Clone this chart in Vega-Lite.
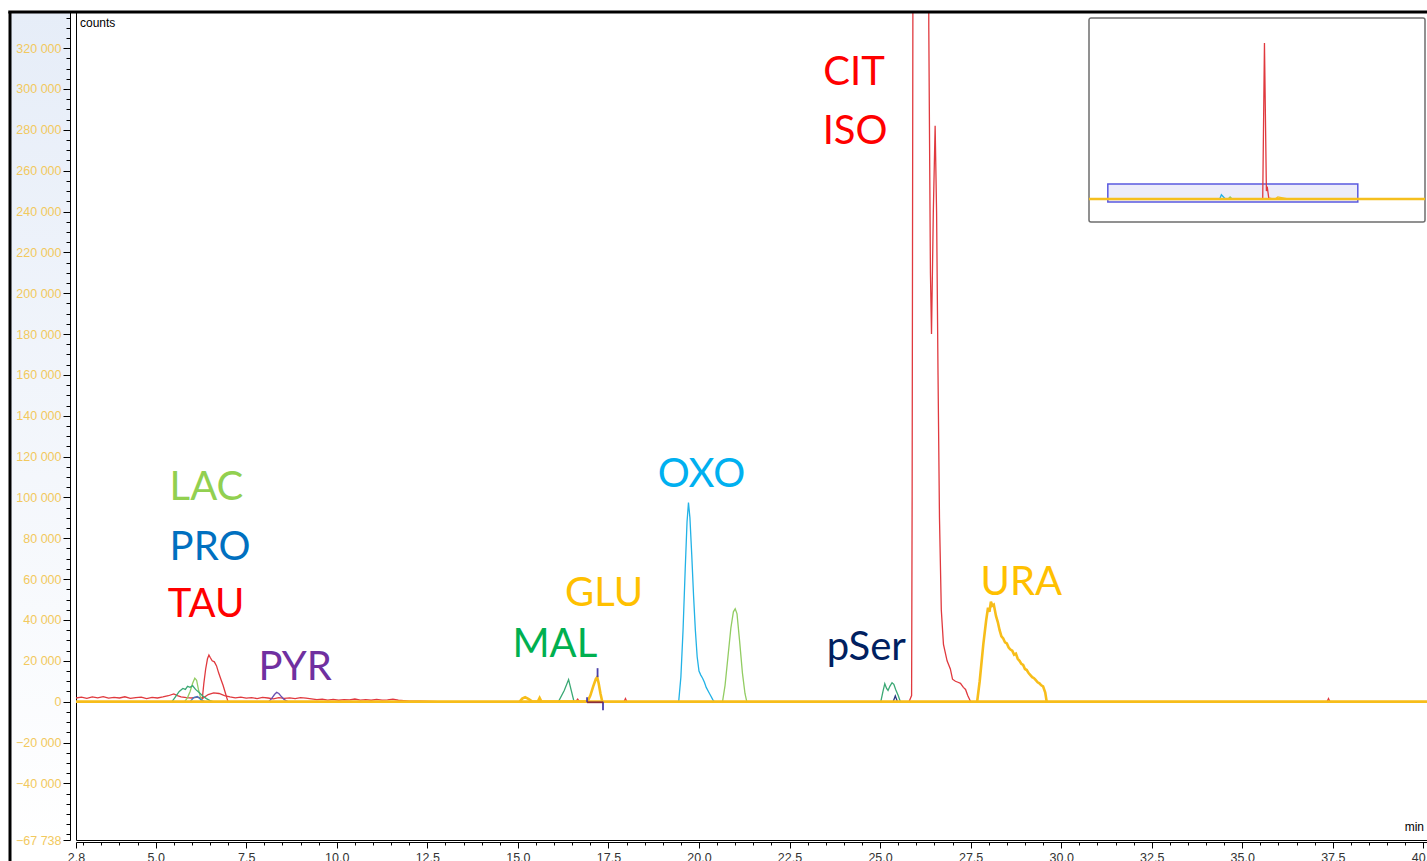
{
  "$schema": "https://vega.github.io/schema/vega-lite/v6.json",
  "width": 1351,
  "height": 828,
  "autosize": {"type": "none"},
  "padding": {"left": 76, "top": 12, "right": 0, "bottom": 21},
  "background": "white",
  "config": {"view": {"stroke": "#000000", "strokeWidth": 1}, "font": "Liberation Sans"},
  "datasets": {
    "traces": [
      {"s":"CIT","t":2.8,"c":1800},{"s":"CIT","t":2.95,"c":2200},{"s":"CIT","t":3.1,"c":1600},{"s":"CIT","t":3.25,"c":2300},{"s":"CIT","t":3.4,"c":1900},{"s":"CIT","t":3.55,"c":2500},{"s":"CIT","t":3.7,"c":1700},{"s":"CIT","t":3.85,"c":2100},{"s":"CIT","t":4.0,"c":1800},{"s":"CIT","t":4.15,"c":2400},{"s":"CIT","t":4.3,"c":1600},{"s":"CIT","t":4.45,"c":2000},{"s":"CIT","t":4.6,"c":2200},{"s":"CIT","t":4.75,"c":1500},{"s":"CIT","t":4.9,"c":2100},{"s":"CIT","t":5.05,"c":1800},{"s":"CIT","t":5.2,"c":2300},{"s":"CIT","t":5.35,"c":2900},{"s":"CIT","t":5.5,"c":3800},{"s":"CIT","t":5.6,"c":3000},{"s":"CIT","t":5.7,"c":2300},{"s":"CIT","t":5.85,"c":2000},{"s":"CIT","t":6.0,"c":1800},{"s":"CIT","t":6.15,"c":2200},{"s":"CIT","t":6.3,"c":1600},{"s":"CIT","t":6.45,"c":3500},{"s":"CIT","t":6.6,"c":4300},{"s":"CIT","t":6.75,"c":4000},{"s":"CIT","t":6.9,"c":3000},{"s":"CIT","t":7.05,"c":2300},{"s":"CIT","t":7.2,"c":1900},{"s":"CIT","t":7.35,"c":2200},{"s":"CIT","t":7.5,"c":1700},{"s":"CIT","t":7.65,"c":2000},{"s":"CIT","t":7.8,"c":1500},{"s":"CIT","t":7.95,"c":2100},{"s":"CIT","t":8.1,"c":1800},{"s":"CIT","t":8.25,"c":1400},{"s":"CIT","t":8.4,"c":2000},{"s":"CIT","t":8.55,"c":1600},{"s":"CIT","t":8.7,"c":1900},{"s":"CIT","t":8.85,"c":1500},{"s":"CIT","t":9.0,"c":2000},{"s":"CIT","t":9.15,"c":1700},{"s":"CIT","t":9.3,"c":1400},{"s":"CIT","t":9.45,"c":1000},{"s":"CIT","t":9.6,"c":1200},{"s":"CIT","t":9.75,"c":800},{"s":"CIT","t":9.9,"c":1100},{"s":"CIT","t":10.05,"c":700},{"s":"CIT","t":10.2,"c":1000},{"s":"CIT","t":10.35,"c":900},{"s":"CIT","t":10.5,"c":1300},{"s":"CIT","t":10.65,"c":800},{"s":"CIT","t":10.8,"c":1000},{"s":"CIT","t":10.95,"c":700},{"s":"CIT","t":11.1,"c":1100},{"s":"CIT","t":11.25,"c":800},{"s":"CIT","t":11.4,"c":900},{"s":"CIT","t":11.55,"c":1200},{"s":"CIT","t":11.7,"c":700},{"s":"CIT","t":11.85,"c":500},{"s":"CIT","t":12.0,"c":300},{"s":"CIT","t":12.3,"c":200},{"s":"CIT","t":12.8,"c":0},{"s":"CIT","t":16.6,"c":0},{"s":"CIT","t":16.65,"c":1200},{"s":"CIT","t":16.7,"c":0},{"s":"CIT","t":17.93,"c":0},{"s":"CIT","t":17.97,"c":1500},{"s":"CIT","t":18.01,"c":0},{"s":"CIT","t":25.8,"c":0},{"s":"CIT","t":25.87,"c":3000},{"s":"CIT","t":25.885,"c":100000},{"s":"CIT","t":25.905,"c":330000},{"s":"CIT","t":25.93,"c":600000},{"s":"CIT","t":26.0,"c":2000000},{"s":"CIT","t":26.11,"c":3500000},{"s":"CIT","t":26.22,"c":2000000},{"s":"CIT","t":26.32,"c":600000},{"s":"CIT","t":26.345,"c":330000},{"s":"CIT","t":26.39,"c":210000},{"s":"CIT","t":26.42,"c":180000},{"s":"CIT","t":26.47,"c":240000},{"s":"CIT","t":26.52,"c":282000},{"s":"CIT","t":26.56,"c":240000},{"s":"CIT","t":26.6,"c":160000},{"s":"CIT","t":26.64,"c":90000},{"s":"CIT","t":26.69,"c":45000},{"s":"CIT","t":26.75,"c":28000},{"s":"CIT","t":26.85,"c":20000},{"s":"CIT","t":26.94,"c":16000},{"s":"CIT","t":27.0,"c":11000},{"s":"CIT","t":27.08,"c":10000},{"s":"CIT","t":27.15,"c":9500},{"s":"CIT","t":27.22,"c":9000},{"s":"CIT","t":27.3,"c":7000},{"s":"CIT","t":27.36,"c":6000},{"s":"CIT","t":27.42,"c":3000},{"s":"CIT","t":27.5,"c":0},{"s":"CIT","t":37.34,"c":0},{"s":"CIT","t":37.38,"c":1500},{"s":"CIT","t":37.42,"c":0},
      {"s":"TAU","t":6.25,"c":0},{"s":"TAU","t":6.29,"c":2000},{"s":"TAU","t":6.33,"c":9000},{"s":"TAU","t":6.38,"c":16000},{"s":"TAU","t":6.43,"c":21000},{"s":"TAU","t":6.47,"c":22800},{"s":"TAU","t":6.51,"c":21500},{"s":"TAU","t":6.56,"c":20000},{"s":"TAU","t":6.62,"c":19500},{"s":"TAU","t":6.68,"c":17500},{"s":"TAU","t":6.74,"c":14000},{"s":"TAU","t":6.8,"c":11000},{"s":"TAU","t":6.86,"c":8000},{"s":"TAU","t":6.92,"c":4500},{"s":"TAU","t":6.97,"c":1500},{"s":"TAU","t":7.0,"c":0},
      {"s":"LAC","t":5.8,"c":0},{"s":"LAC","t":5.88,"c":2000},{"s":"LAC","t":5.95,"c":5000},{"s":"LAC","t":6.02,"c":9000},{"s":"LAC","t":6.08,"c":11500},{"s":"LAC","t":6.13,"c":10500},{"s":"LAC","t":6.18,"c":6000},{"s":"LAC","t":6.24,"c":2000},{"s":"LAC","t":6.3,"c":0},{"s":"LAC","t":20.65,"c":0},{"s":"LAC","t":20.72,"c":8000},{"s":"LAC","t":20.8,"c":22000},{"s":"LAC","t":20.88,"c":36000},{"s":"LAC","t":20.95,"c":44000},{"s":"LAC","t":21.0,"c":45500},{"s":"LAC","t":21.05,"c":43000},{"s":"LAC","t":21.12,"c":30000},{"s":"LAC","t":21.2,"c":14000},{"s":"LAC","t":21.27,"c":4000},{"s":"LAC","t":21.32,"c":0},
      {"s":"MAL","t":5.45,"c":0},{"s":"MAL","t":5.55,"c":2500},{"s":"MAL","t":5.65,"c":5000},{"s":"MAL","t":5.75,"c":6500},{"s":"MAL","t":5.82,"c":6000},{"s":"MAL","t":5.88,"c":7500},{"s":"MAL","t":5.95,"c":7000},{"s":"MAL","t":6.02,"c":7800},{"s":"MAL","t":6.1,"c":6000},{"s":"MAL","t":6.2,"c":4500},{"s":"MAL","t":6.3,"c":2800},{"s":"MAL","t":6.4,"c":1500},{"s":"MAL","t":6.5,"c":500},{"s":"MAL","t":6.58,"c":0},{"s":"MAL","t":16.12,"c":0},{"s":"MAL","t":16.28,"c":5500},{"s":"MAL","t":16.4,"c":10800},{"s":"MAL","t":16.48,"c":5000},{"s":"MAL","t":16.55,"c":0},{"s":"MAL","t":25.02,"c":0},{"s":"MAL","t":25.08,"c":5000},{"s":"MAL","t":25.13,"c":8800},{"s":"MAL","t":25.18,"c":6500},{"s":"MAL","t":25.22,"c":5500},{"s":"MAL","t":25.27,"c":7500},{"s":"MAL","t":25.33,"c":9300},{"s":"MAL","t":25.38,"c":8500},{"s":"MAL","t":25.43,"c":6000},{"s":"MAL","t":25.5,"c":3000},{"s":"MAL","t":25.56,"c":0},
      {"s":"PRO","t":5.95,"c":0},{"s":"PRO","t":6.05,"c":2000},{"s":"PRO","t":6.15,"c":2500},{"s":"PRO","t":6.25,"c":1000},{"s":"PRO","t":6.35,"c":0},
      {"s":"PYR","t":8.12,"c":0},{"s":"PYR","t":8.2,"c":1500},{"s":"PYR","t":8.28,"c":3500},{"s":"PYR","t":8.34,"c":4600},{"s":"PYR","t":8.4,"c":4000},{"s":"PYR","t":8.47,"c":2500},{"s":"PYR","t":8.55,"c":1000},{"s":"PYR","t":8.65,"c":0},
      {"s":"OXO","t":19.44,"c":0},{"s":"OXO","t":19.5,"c":12000},{"s":"OXO","t":19.56,"c":35000},{"s":"OXO","t":19.62,"c":65000},{"s":"OXO","t":19.67,"c":88000},{"s":"OXO","t":19.71,"c":97500},{"s":"OXO","t":19.75,"c":90000},{"s":"OXO","t":19.8,"c":72000},{"s":"OXO","t":19.85,"c":52000},{"s":"OXO","t":19.9,"c":35000},{"s":"OXO","t":19.95,"c":22000},{"s":"OXO","t":20.0,"c":15000},{"s":"OXO","t":20.05,"c":13000},{"s":"OXO","t":20.1,"c":11500},{"s":"OXO","t":20.15,"c":9500},{"s":"OXO","t":20.2,"c":7000},{"s":"OXO","t":20.26,"c":5000},{"s":"OXO","t":20.32,"c":3000},{"s":"OXO","t":20.38,"c":1000},{"s":"OXO","t":20.42,"c":0},
      {"s":"pSer","t":25.36,"c":0},{"s":"pSer","t":25.42,"c":2800},{"s":"pSer","t":25.48,"c":0}
    ],
    "yellow": [
      {"g":"base","t":2.8,"c":0},{"g":"base","t":40.1,"c":0},
      {"g":"glu","t":15.05,"c":0},{"g":"glu","t":15.12,"c":1500},{"g":"glu","t":15.2,"c":2200},{"g":"glu","t":15.3,"c":1200},{"g":"glu","t":15.4,"c":0},{"g":"glu","t":15.55,"c":0},{"g":"glu","t":15.6,"c":1800},{"g":"glu","t":15.65,"c":0},{"g":"glu","t":16.92,"c":0},{"g":"glu","t":17.0,"c":3000},{"g":"glu","t":17.08,"c":7500},{"g":"glu","t":17.15,"c":11000},{"g":"glu","t":17.19,"c":12000},{"g":"glu","t":17.23,"c":9000},{"g":"glu","t":17.28,"c":4000},{"g":"glu","t":17.33,"c":0},
      {"g":"ura","t":27.68,"c":0},{"g":"ura","t":27.75,"c":10000},{"g":"ura","t":27.85,"c":28000},{"g":"ura","t":27.93,"c":40000},{"g":"ura","t":27.98,"c":46000},{"g":"ura","t":28.02,"c":44000},{"g":"ura","t":28.06,"c":49000},{"g":"ura","t":28.1,"c":47000},{"g":"ura","t":28.14,"c":47500},{"g":"ura","t":28.2,"c":42000},{"g":"ura","t":28.25,"c":39000},{"g":"ura","t":28.3,"c":35000},{"g":"ura","t":28.35,"c":32000},{"g":"ura","t":28.4,"c":31000},{"g":"ura","t":28.45,"c":29000},{"g":"ura","t":28.5,"c":28500},{"g":"ura","t":28.55,"c":26500},{"g":"ura","t":28.6,"c":25500},{"g":"ura","t":28.65,"c":25000},{"g":"ura","t":28.7,"c":23000},{"g":"ura","t":28.75,"c":23500},{"g":"ura","t":28.8,"c":21000},{"g":"ura","t":28.85,"c":20000},{"g":"ura","t":28.9,"c":18500},{"g":"ura","t":28.95,"c":18000},{"g":"ura","t":29.0,"c":16000},{"g":"ura","t":29.05,"c":15500},{"g":"ura","t":29.1,"c":14000},{"g":"ura","t":29.15,"c":13000},{"g":"ura","t":29.2,"c":12000},{"g":"ura","t":29.25,"c":11500},{"g":"ura","t":29.3,"c":10500},{"g":"ura","t":29.35,"c":9500},{"g":"ura","t":29.4,"c":9000},{"g":"ura","t":29.45,"c":8000},{"g":"ura","t":29.5,"c":7500},{"g":"ura","t":29.56,"c":4500},{"g":"ura","t":29.6,"c":0}
    ],
    "markers": [
      {"k":"v","t":17.2,"t2":17.2,"c":12000,"c2":16400},
      {"k":"v","t":17.35,"t2":17.35,"c":0,"c2":-4200},
      {"k":"v","t":16.91,"t2":16.91,"c":2200,"c2":-300},
      {"k":"h","t":16.91,"t2":17.35,"c":-300,"c2":-300}
    ],
    "labels": [
      {"k":"LAC","t":6.4,"c":98700},
      {"k":"PRO","t":6.5,"c":69300},
      {"k":"TAU","t":6.39,"c":41400},
      {"k":"PYR","t":8.85,"c":10500},
      {"k":"MAL","t":16.02,"c":21800},
      {"k":"GLU","t":17.38,"c":46800},
      {"k":"OXO","t":20.07,"c":105000},
      {"k":"pSer","t":24.62,"c":20300},
      {"k":"CIT","t":24.28,"c":301900},
      {"k":"ISO","t":24.31,"c":273000},
      {"k":"URA","t":28.9,"c":52100}
    ],
    "inset": [
      {"s":"OXO","t":19.45,"c":0},{"s":"OXO","t":19.7,"c":97000},{"s":"OXO","t":20.3,"c":0},
      {"s":"LAC","t":20.7,"c":0},{"s":"LAC","t":21.0,"c":45000},{"s":"LAC","t":21.3,"c":0},
      {"s":"GLU","t":27.7,"c":0},{"s":"GLU","t":28.1,"c":48000},{"s":"GLU","t":29.6,"c":0},
      {"s":"CIT","t":25.85,"c":0},{"s":"CIT","t":26.11,"c":3514000},{"s":"CIT","t":26.4,"c":180000},{"s":"CIT","t":26.52,"c":282000},{"s":"CIT","t":26.75,"c":20000},{"s":"CIT","t":27.5,"c":0}
    ],
    "insetBase": [
      {"t":0,"c":0},{"t":50,"c":0}
    ]
  },
  "layer": [
    {
      "data": {"values": [{}]},
      "mark": {"type": "rect", "fill": {"gradient": "linear", "x1": 0, "y1": 0, "x2": 0, "y2": 1, "stops": [{"offset": 0, "color": "#e6edf8"}, {"offset": 1, "color": "#ffffff"}]}},
      "encoding": {
        "x": {"datum": 0.978, "type": "quantitative", "scale": {"domain": [2.8, 40.1], "nice": false, "zero": false}, "axis": null},
        "x2": {"datum": 2.634},
        "y": {"datum": 337700, "type": "quantitative", "scale": {"domain": [-67738, 337700], "nice": false, "zero": false}, "axis": null},
        "y2": {"datum": -70600}
      }
    },
    {
      "data": {"values": [{}]},
      "mark": {"type": "rule", "color": "#000000", "strokeWidth": 3},
      "encoding": {
        "x": {"datum": 0.978, "type": "quantitative", "scale": {"domain": [2.8, 40.1], "nice": false, "zero": false}, "axis": null},
        "y": {"datum": 337700, "type": "quantitative", "scale": {"domain": [-67738, 337700], "nice": false, "zero": false}, "axis": null},
        "y2": {"datum": -80000}
      }
    },
    {
      "data": {"name": "traces"},
      "mark": {"type": "line", "clip": true, "strokeWidth": 1.3},
      "encoding": {
        "x": {"field": "t", "type": "quantitative",
          "scale": {"domain": [2.8, 40.1], "nice": false, "zero": false},
          "axis": {
            "title": null, "grid": false, "offset": 2, "zindex": 1,
            "values": [2.8,3,3.5,4,4.5,5,5.5,6,6.5,7,7.5,8,8.5,9,9.5,10,10.5,11,11.5,12,12.5,13,13.5,14,14.5,15,15.5,16,16.5,17,17.5,18,18.5,19,19.5,20,20.5,21,21.5,22,22.5,23,23.5,24,24.5,25,25.5,26,26.5,27,27.5,28,28.5,29,29.5,30,30.5,31,31.5,32,32.5,33,33.5,34,34.5,35,35.5,36,36.5,37,37.5,38,38.5,39,39.5,40],
            "labelExpr": "(datum.value == 2.8 || datum.value % 2.5 == 0) ? format(datum.value, '.1f') : ''",
            "tickSize": {"condition": {"test": "datum.value == 2.8 || datum.value % 2.5 == 0", "value": 6}, "value": 3},
            "domainColor": "#000000", "tickColor": "#000000", "labelColor": "#333333",
            "labelFont": "Liberation Sans", "labelFontSize": 12.5, "labelPadding": 3,
            "labelOverlap": false, "labelFlush": false
          }
        },
        "y": {"field": "c", "type": "quantitative",
          "scale": {"domain": [-67738, 337700], "nice": false, "zero": false},
          "axis": {
            "title": null, "grid": false, "offset": 6, "zindex": 1,
            "values": [-67738,-65000,-60000,-55000,-50000,-45000,-40000,-35000,-30000,-25000,-20000,-15000,-10000,-5000,0,5000,10000,15000,20000,25000,30000,35000,40000,45000,50000,55000,60000,65000,70000,75000,80000,85000,90000,95000,100000,105000,110000,115000,120000,125000,130000,135000,140000,145000,150000,155000,160000,165000,170000,175000,180000,185000,190000,195000,200000,205000,210000,215000,220000,225000,230000,235000,240000,245000,250000,255000,260000,265000,270000,275000,280000,285000,290000,295000,300000,305000,310000,315000,320000,325000,330000,335000],
            "labelExpr": "((datum.value % 20000 == 0 && datum.value > -50000) || datum.value == -67738) ? replace(format(datum.value, ',d'), regexp(',', 'g'), ' ') : ''",
            "tickSize": {"condition": {"test": "(datum.value % 20000 == 0 && datum.value > -50000) || datum.value == -67738", "value": 7}, "value": 4},
            "domainColor": "#000000", "tickColor": "#000000", "labelColor": "#f2c95e",
            "labelFont": "Liberation Sans", "labelFontSize": 12.5, "labelPadding": 2,
            "labelOverlap": false, "labelFlush": false
          }
        },
        "color": {"field": "s", "type": "nominal",
          "scale": {"domain": ["CIT","TAU","LAC","MAL","PRO","PYR","OXO","pSer"], "range": ["#e0393e","#e0393e","#92cc62","#3aa874","#3a7cc8","#6a4fb0","#22b2e6","#283a80"]},
          "legend": null}
      }
    },
    {
      "data": {"name": "yellow"},
      "mark": {"type": "line", "clip": true, "strokeWidth": 2.6, "color": "#f7bd1a"},
      "encoding": {
        "x": {"field": "t", "type": "quantitative", "scale": {"domain": [2.8, 40.1], "nice": false, "zero": false}, "axis": null},
        "y": {"field": "c", "type": "quantitative", "scale": {"domain": [-67738, 337700], "nice": false, "zero": false}, "axis": null},
        "detail": {"field": "g"}
      }
    },
    {
      "data": {"name": "markers"},
      "mark": {"type": "rule", "strokeWidth": 1.8},
      "encoding": {
        "x": {"field": "t", "type": "quantitative", "scale": {"domain": [2.8, 40.1], "nice": false, "zero": false}, "axis": null},
        "x2": {"field": "t2"},
        "y": {"field": "c", "type": "quantitative", "scale": {"domain": [-67738, 337700], "nice": false, "zero": false}, "axis": null},
        "y2": {"field": "c2"},
        "color": {"field": "k", "type": "nominal", "scale": {"domain": ["v","h"], "range": ["#4a3fa8","#8b2c3a"]}, "legend": null}
      }
    },
    {
      "data": {"values": [{}]},
      "mark": {"type": "rule", "color": "#000000", "strokeWidth": 3},
      "encoding": {
        "x": {"datum": 0.93, "type": "quantitative", "scale": {"domain": [2.8, 40.1], "nice": false, "zero": false}, "axis": null},
        "x2": {"datum": 40.1},
        "y": {"datum": 337700, "type": "quantitative", "scale": {"domain": [-67738, 337700], "nice": false, "zero": false}, "axis": null}
      }
    },
    {
      "data": {"name": "labels"},
      "mark": {"type": "text", "font": "Lato", "fontSize": 40, "align": "center", "baseline": "alphabetic"},
      "encoding": {
        "x": {"field": "t", "type": "quantitative", "scale": {"domain": [2.8, 40.1], "nice": false, "zero": false}, "axis": null},
        "y": {"field": "c", "type": "quantitative", "scale": {"domain": [-67738, 337700], "nice": false, "zero": false}, "axis": null},
        "text": {"field": "k"},
        "color": {"field": "k", "type": "nominal",
          "scale": {"domain": ["LAC","PRO","TAU","PYR","MAL","GLU","OXO","pSer","CIT","ISO","URA"], "range": ["#92d050","#0070c0","#ff0000","#7030a0","#00b050","#ffc000","#00b0f0","#002060","#ff0000","#ff0000","#ffc000"]},
          "legend": null}
      }
    },
    {
      "data": {"values": [{}]},
      "mark": {"type": "text", "text": "counts", "font": "Liberation Sans", "fontSize": 12, "color": "#000000", "align": "left", "baseline": "top", "dx": 4, "dy": 6},
      "encoding": {
        "x": {"datum": 2.8, "type": "quantitative", "scale": {"domain": [2.8, 40.1], "nice": false, "zero": false}, "axis": null},
        "y": {"datum": 337700, "type": "quantitative", "scale": {"domain": [-67738, 337700], "nice": false, "zero": false}, "axis": null}
      }
    },
    {
      "data": {"values": [{}]},
      "mark": {"type": "text", "text": "min", "font": "Liberation Sans", "fontSize": 12, "color": "#000000", "align": "right", "baseline": "bottom", "dx": -3, "dy": -6},
      "encoding": {
        "x": {"datum": 40.1, "type": "quantitative", "scale": {"domain": [2.8, 40.1], "nice": false, "zero": false}, "axis": null},
        "y": {"datum": -67738, "type": "quantitative", "scale": {"domain": [-67738, 337700], "nice": false, "zero": false}, "axis": null}
      }
    },
    {
      "data": {"values": [{}]},
      "mark": {"type": "rect", "fill": "#ffffff", "stroke": "#6e6e6e", "strokeWidth": 1.5, "cornerRadius": 2},
      "encoding": {
        "x": {"datum": 0, "type": "quantitative", "scale": {"domain": [0, 50], "range": [1013, 1349], "nice": false, "zero": false}, "axis": null},
        "x2": {"datum": 50},
        "y": {"datum": -518000, "type": "quantitative", "scale": {"domain": [-518000, 4077000], "range": [210, 6], "nice": false, "zero": false}, "axis": null},
        "y2": {"datum": 4077000}
      }
    },
    {
      "data": {"values": [{}]},
      "mark": {"type": "rect", "fill": "#e4e4f8", "fillOpacity": 0.7, "stroke": "#5a5ae0", "strokeWidth": 1.5},
      "encoding": {
        "x": {"datum": 2.8, "type": "quantitative", "scale": {"domain": [0, 50], "range": [1013, 1349], "nice": false, "zero": false}, "axis": null},
        "x2": {"datum": 40},
        "y": {"datum": -67738, "type": "quantitative", "scale": {"domain": [-518000, 4077000], "range": [210, 6], "nice": false, "zero": false}, "axis": null},
        "y2": {"datum": 337700}
      }
    },
    {
      "data": {"name": "inset"},
      "mark": {"type": "line", "strokeWidth": 1.3},
      "encoding": {
        "x": {"field": "t", "type": "quantitative", "scale": {"domain": [0, 50], "range": [1013, 1349], "nice": false, "zero": false}, "axis": null},
        "y": {"field": "c", "type": "quantitative", "scale": {"domain": [-518000, 4077000], "range": [210, 6], "nice": false, "zero": false}, "axis": null},
        "color": {"field": "s", "type": "nominal", "scale": {"domain": ["GLU","OXO","LAC","CIT"], "range": ["#f5bf1e","#22b2e6","#92cc62","#e0393e"]}, "legend": null}
      }
    },
    {
      "data": {"name": "insetBase"},
      "mark": {"type": "line", "strokeWidth": 2.5, "color": "#f5bf1e"},
      "encoding": {
        "x": {"field": "t", "type": "quantitative", "scale": {"domain": [0, 50], "range": [1013, 1349], "nice": false, "zero": false}, "axis": null},
        "y": {"field": "c", "type": "quantitative", "scale": {"domain": [-518000, 4077000], "range": [210, 6], "nice": false, "zero": false}, "axis": null}
      }
    }
  ],
  "resolve": {"scale": {"x": "independent", "y": "independent", "color": "independent"}}
}
